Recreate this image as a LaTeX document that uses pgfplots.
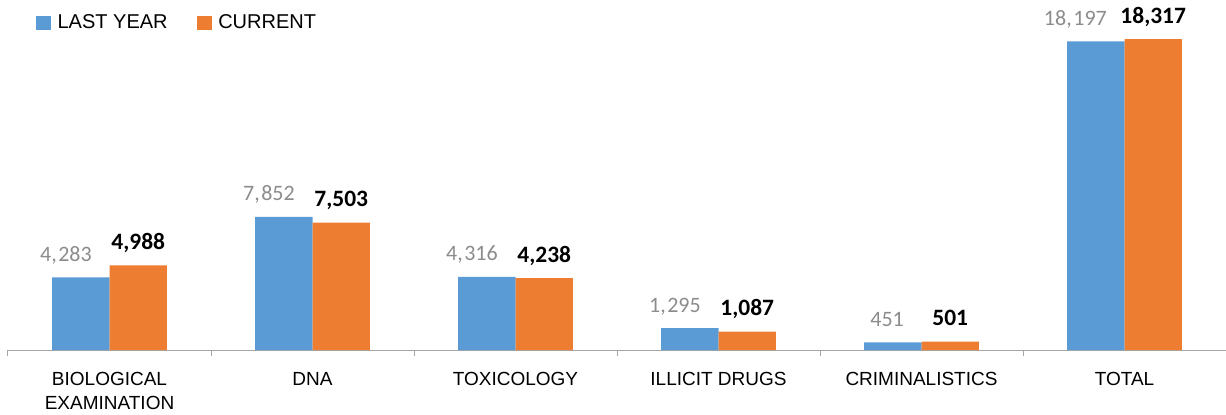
\documentclass[border=0pt]{standalone}
\usepackage{fontspec}
\setmainfont{Liberation Sans}
\newfontfamily\calib{Carlito}
\usepackage{pgfplots}
\pgfplotsset{compat=1.18}
\definecolor{cblue}{HTML}{5B9BD5}
\definecolor{corange}{HTML}{ED7D31}
\definecolor{lblgray}{HTML}{8C8C8C}
\definecolor{axgray}{HTML}{A6A6A6}
\begin{document}
\begin{tikzpicture}
\path[use as bounding box] (-6pt,-48pt) rectangle (913.5pt,262.5pt);
\begin{axis}[
  at={(0,0)}, anchor=south west,
  width=913.5pt, height=254.5pt, scale only axis,
  /pgf/number format/assume math mode=true,
  ymin=0, ymax=20000, xmin=-0.5, xmax=5.5,
  ybar=0pt, bar width=43.1pt,
  axis x line*=bottom, axis y line=none,
  x axis line style={axgray, line width=0.75pt, -},
  tick align=outside,
  xtick={-0.5,0.5,1.5,2.5,3.5,4.5,5.5},
  xticklabels={},
  major tick length=4.5pt,
  xtick style={axgray, line width=0.75pt},
  extra x ticks={0,1,2,3,4,5},
  extra x tick labels={{BIOLOGICAL\\EXAMINATION},DNA,TOXICOLOGY,ILLICIT DRUGS,CRIMINALISTICS,TOTAL},
  extra x tick style={tick style={draw=none}},
  xticklabel style={font=\fontsize{14.25pt}{18.5pt}\selectfont, align=center, anchor=north, text=black, yshift=-8.5pt},
  legend style={draw=none, fill=none, at={(rel axis cs:0,1)}, anchor=north west,
    xshift=21pt, yshift=-1pt, font=\fontsize{15pt}{18pt}\selectfont,
    /tikz/every even column/.append style={column sep=20pt},
    /tikz/every odd column/.append style={column sep=3pt}, inner sep=0pt},
  legend columns=2,
  legend image code/.code={\fill[#1,draw=none] (0pt,-5.5pt) rectangle (11pt,5.5pt);},
]
\addplot[fill=cblue, draw=none,
  nodes near coords={\pgfmathprintnumber[1000 sep={,\kern1.2pt}]{\pgfplotspointmeta}},
  every node near coord/.append style={font=\calib\fontsize{16.5pt}{18pt}\selectfont, text=lblgray, anchor=base east, xshift=11.8pt, yshift=12pt}]
  coordinates {(0,4283) (1,7852) (2,4316) (3,1295) (4,451) (5,18197)};
\addplot[fill=corange, draw=none,
  nodes near coords={\pgfmathprintnumber[1000 sep={,}]{\pgfplotspointmeta}},
  every node near coord/.append style={font=\calib\bfseries\fontsize{17.6pt}{18pt}\selectfont, text=black, anchor=base, yshift=12pt}]
  coordinates {(0,4988) (1,7503) (2,4238) (3,1087) (4,501) (5,18317)};
\legend{LAST YEAR, CURRENT}
\end{axis}
\end{tikzpicture}
\end{document}
